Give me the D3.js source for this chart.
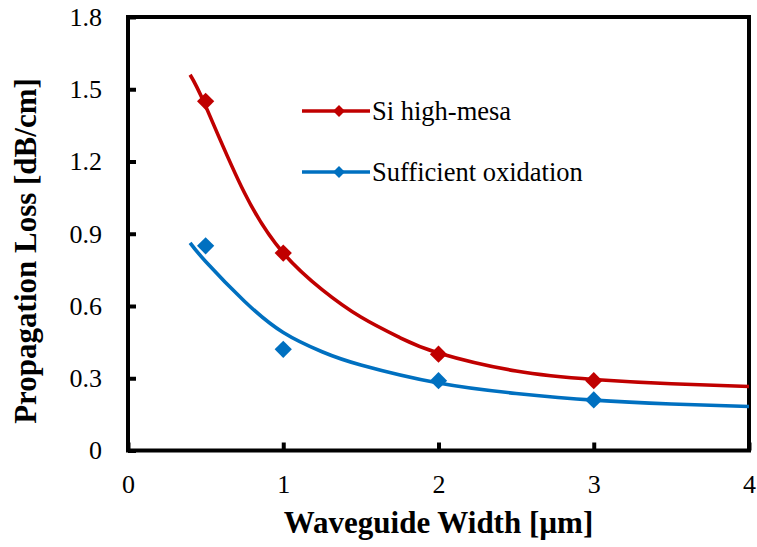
<!DOCTYPE html>
<html>
<head>
<meta charset="utf-8">
<script src="https://cdn.jsdelivr.net/npm/d3@7"></script>
<style>
  body { margin: 0; background: #fff; }
  svg text { font-family: "Liberation Serif", "Times New Roman", serif; }
</style>
</head>
<body>
<div id="chart"></div>
<script>
// measured points
const widths = [0.5, 1, 2, 3];
const siMesa = [1.45, 0.82, 0.40, 0.29];
const oxidation = [0.85, 0.42, 0.29, 0.21];

// trend lines
const siTrendX = [0.4, 0.5, 0.75, 1, 1.25, 1.5, 1.75, 2, 2.5, 3, 3.5, 4];
const siTrend = [1.56, 1.43, 1.07, 0.82, 0.668, 0.554, 0.469, 0.405, 0.33, 0.295, 0.277, 0.266];
const oxTrendX = [0.4, 0.5, 0.75, 1, 1.25, 1.5, 2, 2.5, 3, 3.5, 4];
const oxTrend = [0.862, 0.785, 0.62, 0.49, 0.41, 0.355, 0.28, 0.237, 0.209, 0.193, 0.183];

const xTicks = [0, 1, 2, 3, 4];
const yTicks = [0, 0.3, 0.6, 0.9, 1.2, 1.5, 1.8];

const seriesNames = ["Si high-mesa", "Sufficient oxidation"];
const seriesColors = ["#c00000", "#0070c0"];

const margin = {top: 17, right: 8, bottom: 96.5, left: 128},
    W = 757, H = 547,
    width = W - margin.left - margin.right,
    height = H - margin.top - margin.bottom;

const svg = d3.select("#chart")
    .append("svg")
    .attr("width", W)
    .attr("height", H);

const g = svg.append("g")
    .attr("transform", `translate(${margin.left},${margin.top})`);

const x = d3.scaleLinear().domain([0, 4]).range([0, width]);
const y = d3.scaleLinear().domain([0, 1.8]).range([height, 0]);

// axes with inward ticks
const xAxis = g.append("g")
    .attr("transform", `translate(0,${height})`)
    .call(d3.axisBottom(x).tickValues(xTicks).tickSize(-8).tickPadding(24).tickFormat(d3.format("d")));
const yAxis = g.append("g")
    .call(d3.axisLeft(y).tickValues(yTicks).tickSize(-8).tickPadding(26)
        .tickFormat(d => d === 0 ? "0" : d3.format(".1f")(d)));

[xAxis, yAxis].forEach(a => {
    a.attr("font-family", null);
    a.select(".domain").remove();
    a.selectAll(".tick line").attr("stroke", "#000").attr("stroke-width", 4);
    a.selectAll(".tick text")
        .attr("font-size", 26)
        .attr("fill", "#000");
});

// frame
g.append("rect")
    .attr("width", width)
    .attr("height", height)
    .attr("fill", "none")
    .attr("stroke", "#000")
    .attr("stroke-width", 4);

const line = d3.line()
    .x(d => x(d[0]))
    .y(d => y(d[1]))
    .curve(d3.curveNatural);

const trends = [[siTrendX, siTrend], [oxTrendX, oxTrend]];
const points = [siMesa, oxidation];
const diamond = d3.symbol().type(d3.symbolDiamond2);

trends.forEach((t, i) => {
    g.append("path")
        .datum(t[0].map((v, j) => [v, t[1][j]]))
        .attr("d", line)
        .attr("fill", "none")
        .attr("stroke", seriesColors[i])
        .attr("stroke-width", 3.6);
});

points.forEach((p, i) => {
    g.append("g")
        .selectAll("path")
        .data(widths.map((v, j) => [v, p[j]]))
        .join("path")
        .attr("transform", d => `translate(${x(d[0])},${y(d[1])})`)
        .attr("d", diamond.size(190))
        .attr("fill", seriesColors[i]);
});

// legend
const legend = svg.append("g").attr("transform", "translate(302,111)");
seriesNames.forEach((name, i) => {
    const row = legend.append("g").attr("transform", `translate(0,${i * 61})`);
    row.append("line")
        .attr("x1", 0).attr("x2", 68)
        .attr("stroke", seriesColors[i])
        .attr("stroke-width", 3.6);
    row.append("path")
        .attr("transform", "translate(37,0)")
        .attr("d", diamond.size(90))
        .attr("fill", seriesColors[i]);
    row.append("text")
        .attr("x", 70)
        .attr("y", 9)
        .attr("font-size", 26.5)
        .text(name);
});

// axis titles
svg.append("text")
    .attr("x", margin.left + width / 2)
    .attr("y", 533)
    .attr("text-anchor", "middle")
    .attr("font-size", 31)
    .attr("font-weight", "bold")
    .text("Waveguide Width [µm]");

svg.append("text")
    .attr("transform", "translate(36,251) rotate(-90)")
    .attr("text-anchor", "middle")
    .attr("font-size", 31)
    .attr("font-weight", "bold")
    .text("Propagation Loss [dB/cm]");
</script>
</body>
</html>
